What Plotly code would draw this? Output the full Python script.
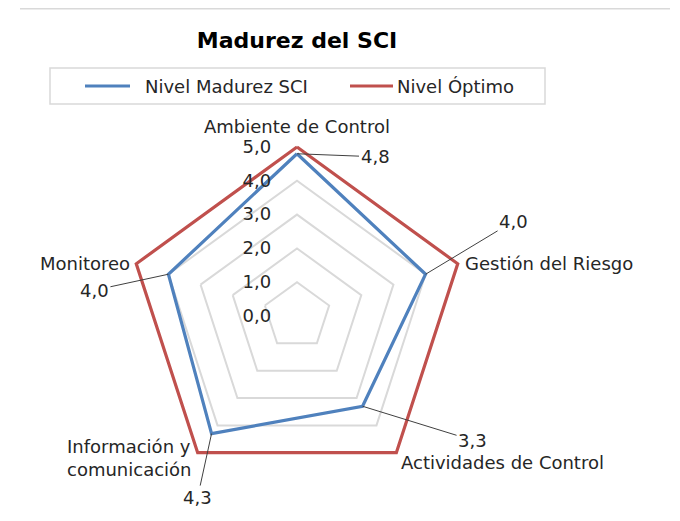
import math
import plotly.graph_objects as go

# ---- data ----
categories = ["Ambiente de Control", "Gestión del Riesgo", "Actividades de Control",
              "Información y<br>comunicación", "Monitoreo"]
madurez = [4.8, 4.0, 3.3, 4.3, 4.0]
optimo = [5.0, 5.0, 5.0, 5.0, 5.0]
radial_ticks = [0, 1, 2, 3, 4, 5]
series_names = ["Nivel Madurez SCI", "Nivel Óptimo"]
series_colors = ["#4F81BD", "#C0504D"]

# ---- layout geometry (page pixel coordinates; body has an 8px margin) ----
OFF = 8
W, H = 680 - OFF, 521 - OFF
CX, CY, R = 297, 316, 169
RMAX = 5
RANGE_MAX = 5.1          # a little headroom so the outer line is not clipped
R_OUT = R * RANGE_MAX / RMAX
FONT = "DejaVu Sans"
TXT = "#262626"


def fx(x):
    return (x - OFF) / W


def fy(y):
    return 1 - (y - OFF) / H


def to_paper(value, idx):
    ang = math.radians(90 - 360 / len(categories) * idx)
    r = value / RMAX * R
    return fx(CX + r * math.cos(ang)), fy(CY - r * math.sin(ang))


fig = go.Figure()
for name, vals, col in [(series_names[0], madurez, series_colors[0]),
                        (series_names[1], optimo, series_colors[1])]:
    fig.add_trace(go.Scatterpolar(
        r=vals + vals[:1], theta=categories + categories[:1], mode="lines",
        name=name, cliponaxis=False, showlegend=False,
        line=dict(color=col, width=3.2)))

annotations = []
# data labels with leader lines
label_offsets = [(78, 3), (88, -53), (110, 34), (-14, 64), (-74, 16)]
for i, v in enumerate(madurez):
    x, y = to_paper(v, i)
    ax, ay = label_offsets[i]
    annotations.append(dict(
        x=x, y=y, xref="paper", yref="paper", text=f"{v:.1f}".replace(".", ","),
        showarrow=True, arrowhead=0, arrowwidth=1, arrowcolor="#404040",
        ax=ax, ay=ay, standoff=0, font=dict(family=FONT, size=18, color=TXT)))

# category labels
cat_pos = [
    dict(xanchor="center", yanchor="bottom", xshift=0, yshift=8, align="center"),
    dict(xanchor="left", yanchor="middle", xshift=5, yshift=0, align="left"),
    dict(xanchor="left", yanchor="top", xshift=3, yshift=3, align="left"),
    dict(xanchor="right", yanchor="middle", xshift=-4, yshift=-5, align="left"),
    dict(xanchor="right", yanchor="middle", xshift=-4, yshift=0, align="right"),
]
for i, c in enumerate(categories):
    x, y = to_paper(RMAX, i)
    annotations.append(dict(
        x=x, y=y, xref="paper", yref="paper", text=c, showarrow=False,
        font=dict(family=FONT, size=18, color=TXT), **cat_pos[i]))

# legend (drawn)
shapes = [
    dict(type="line", xref="paper", yref="paper", x0=fx(20), x1=fx(670),
         y0=fy(8), y1=fy(8), line=dict(color="#d9d9d9", width=3)),
    dict(type="rect", xref="paper", yref="paper", x0=fx(50), x1=fx(545),
         y0=fy(104), y1=fy(68), line=dict(color="#d9d9d9", width=1.5),
         fillcolor="white"),
]
leg_items = [(85, 130, 143), (350, 393, 395)]
for (l0, l1, tx), name, col in zip(leg_items, series_names, series_colors):
    shapes.append(dict(type="line", xref="paper", yref="paper", x0=fx(l0), x1=fx(l1),
                       y0=fy(86), y1=fy(86), line=dict(color=col, width=3.2)))
    annotations.append(dict(x=fx(tx), y=fy(86), xref="paper", yref="paper", text=name,
                            showarrow=False, xanchor="left", yanchor="middle",
                            font=dict(family=FONT, size=18, color=TXT)))

fig.update_layout(
    width=W, height=H,
    margin=dict(l=0, r=0, t=0, b=0),
    paper_bgcolor="white",
    separators=", ",
    font=dict(family=FONT, color=TXT),
    title=dict(text="<b>Madurez del SCI</b>", x=fx(297), xanchor="center",
               y=fy(40), yanchor="middle",
               font=dict(family=FONT, size=22, color="black")),
    showlegend=False,
    polar=dict(
        domain=dict(x=[fx(CX - R_OUT), fx(CX + R_OUT)],
                    y=[fy(CY + R_OUT), fy(CY - R_OUT)]),
        bgcolor="white",
        gridshape="linear",
        radialaxis=dict(range=[0, RANGE_MAX], tickvals=radial_ticks, tickformat=".1f",
                        showline=False, ticks="outside", ticklen=19,
                        tickcolor="rgba(0,0,0,0)", angle=90, tickangle=90,
                        side="counterclockwise",
                        gridcolor="#d9d9d9", gridwidth=2,
                        tickfont=dict(family=FONT, size=18, color=TXT)),
        angularaxis=dict(rotation=90, direction="clockwise", showgrid=False,
                         showline=False, showticklabels=False, ticks=""),
    ),
    annotations=annotations,
    shapes=shapes,
)

fig.write_html("out.html")
